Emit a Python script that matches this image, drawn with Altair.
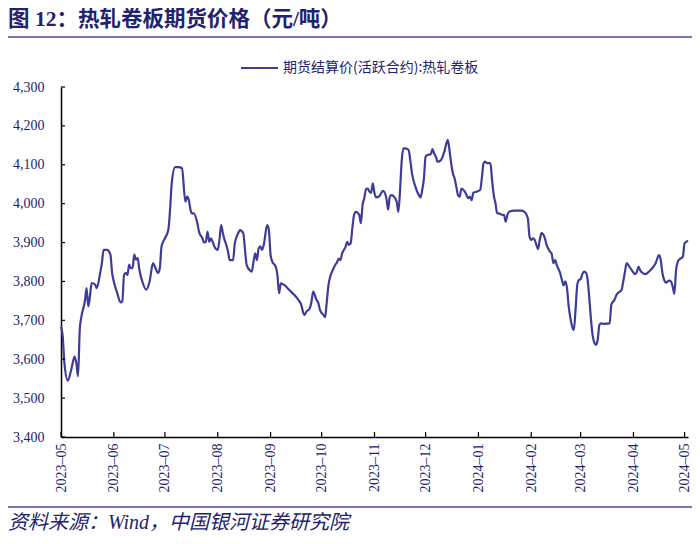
import altair as alt
import pandas as pd

# ---------------- data ----------------
TITLE = "图 12：热轧卷板期货价格（元/吨）"
SERIES_NAME = "期货结算价(活跃合约):热轧卷板"
SOURCE = "资料来源：Wind，中国银河证券研究院"

START_DATE = "2023-05-01"
# days elapsed since START_DATE
DAY_OFFSETS = [
    0, 1, 2, 4, 6, 8, 9, 10, 11, 12,
    14, 15, 16, 17, 18, 20, 21, 23, 24, 25,
    27, 29, 30, 31, 33, 35, 36, 37, 38, 39,
    40, 41, 42, 43, 44, 45, 46, 48, 50, 52,
    54, 55, 57, 58, 59, 61, 63, 64, 65, 67,
    69, 71, 73, 74, 75, 76, 77, 78, 80, 81,
    83, 84, 85, 86, 87, 88, 89, 90, 92, 93,
    94, 95, 96, 97, 98, 99, 101, 102, 104, 105,
    107, 108, 109, 111, 112, 113, 114, 115, 116, 117,
    118, 119, 121, 122, 123, 124, 126, 127, 128, 129,
    131, 134, 137, 140, 141, 142, 143, 144, 146, 147,
    148, 150, 151, 152, 154, 155, 156, 157, 158, 160,
    161, 162, 163, 164, 165, 167, 168, 169, 170, 171,
    172, 173, 175, 176, 177, 178, 179, 180, 181, 182,
    183, 184, 185, 187, 188, 189, 191, 192, 193, 194,
    195, 197, 198, 199, 200, 201, 202, 204, 205, 206,
    208, 210, 211, 212, 213, 214, 215, 217, 218, 219,
    220, 221, 223, 224, 225, 227, 228, 229, 230, 231,
    232, 233, 234, 235, 237, 238, 239, 240, 241, 242,
    244, 246, 247, 248, 249, 250, 252, 253, 254, 255,
    256, 257, 259, 260, 261, 262, 263, 266, 270, 272,
    274, 275, 276, 277, 278, 279, 280, 281, 282, 284,
    285, 287, 288, 289, 290, 291, 293, 294, 295, 296,
    297, 298, 299, 300, 301, 302, 303, 304, 305, 306,
    307, 308, 309, 310, 311, 312, 313, 314, 315, 316,
    317, 319, 322, 323, 325, 326, 327, 329, 330, 331,
    332, 333, 335, 337, 338, 339, 340, 341, 343, 345,
    347, 349, 351, 352, 353, 354, 355, 357, 358, 359,
    360, 361, 362, 363, 365, 366, 367, 368,
]
PRICES = [
    3684, 3659, 3590, 3545, 3573, 3607, 3590, 3556, 3676, 3710,
    3749, 3783, 3736, 3762, 3796, 3792, 3783, 3822, 3847, 3881,
    3881, 3869, 3822, 3800, 3770, 3746, 3749, 3817, 3822, 3817,
    3843, 3834, 3834, 3869, 3856, 3860, 3830, 3796, 3779, 3800,
    3847, 3839, 3822, 3834, 3890, 3911, 3933, 3984, 4053, 4094,
    4094, 4091, 4005, 4018, 4010, 3984, 3975, 3975, 3950, 3928,
    3911, 3900, 3902, 3928, 3902, 3911, 3902, 3890, 3881, 3907,
    3945, 3924, 3907, 3894, 3877, 3855, 3855, 3898, 3924, 3932,
    3924, 3881, 3842, 3828, 3825, 3851, 3872, 3855, 3885, 3890,
    3881, 3894, 3945, 3932, 3868, 3851, 3838, 3817, 3770, 3795,
    3791, 3778, 3765, 3748, 3740, 3722, 3714, 3722, 3731, 3748,
    3774, 3752, 3745, 3727, 3714, 3708, 3748, 3791, 3812, 3834,
    3843, 3849, 3859, 3855, 3872, 3889, 3902, 3894, 3898, 3937,
    3971, 3979, 3972, 3950, 3997, 4014, 4037, 4039, 4031, 4028,
    4052, 4027, 4016, 4020, 4028, 4033, 4014, 3985, 4018, 4022,
    4020, 4005, 3979, 4035, 4112, 4142, 4142, 4138, 4112, 4078,
    4044, 4022, 4016, 4035, 4065, 4121, 4125, 4127, 4140, 4129,
    4121, 4108, 4112, 4121, 4134, 4164, 4138, 4104, 4078, 4065,
    4044, 4022, 4018, 4039, 4031, 4022, 4014, 4018, 4009, 4028,
    4031, 4035, 4065, 4104, 4108, 4104, 4104, 4061, 4022, 4001,
    3975, 3975, 3971, 3971, 3954, 3971, 3979, 3982, 3982, 3979,
    3962, 3915, 3907, 3911, 3907, 3894, 3883, 3907, 3924, 3911,
    3894, 3877, 3871, 3847, 3855, 3842, 3821, 3804, 3790, 3800,
    3782, 3735, 3705, 3684, 3675, 3727, 3791, 3804, 3806, 3819,
    3825, 3823, 3808, 3761, 3705, 3662, 3643, 3637, 3650, 3688,
    3692, 3691, 3692, 3740, 3754, 3765, 3771, 3778, 3800, 3825,
    3847, 3842, 3829, 3819, 3825, 3838, 3828, 3823, 3819, 3825,
    3834, 3847, 3868, 3855, 3821, 3804, 3797, 3802, 3800, 3787,
    3768, 3829, 3851, 3857, 3864, 3898, 3902, 3905,
]
Y_TICKS = [3400, 3500, 3600, 3700, 3800, 3900, 4000, 4100, 4200, 4300]
MONTH_TICKS = [(2023, 5), (2023, 6), (2023, 7), (2023, 8), (2023, 9), (2023, 10),
               (2023, 11), (2023, 12), (2024, 1), (2024, 2), (2024, 3), (2024, 4),
               (2024, 5)]
X_END = (2024, 5, 3)

# ---------------- styling ----------------
NAVY = "#22226e"
LINE = "#3d3d99"
SERIF = "Liberation Serif, Noto Sans CJK SC"
W, H = 627, 350

dates = pd.Timestamp(START_DATE) + pd.to_timedelta(DAY_OFFSETS, unit="D")
df = pd.DataFrame({"date": dates.strftime("%Y-%m-%dT00:00:00"), "price": PRICES})
ticks_df = pd.DataFrame({"date": [f"{y}-{m:02d}-01T00:00:00" for y, m in MONTH_TICKS]})
yt_df = pd.DataFrame({"price": Y_TICKS})
one = pd.DataFrame({"k": [0]})

x_scale = alt.Scale(domain=[alt.DateTime(year=2023, month=5, date=1),
                            alt.DateTime(year=X_END[0], month=X_END[1], date=X_END[2])])
y_scale = alt.Scale(domain=[Y_TICKS[0], Y_TICKS[-1]], nice=False, zero=False)

x_axis = alt.Axis(
    values=[alt.DateTime(year=y, month=m, date=1) for y, m in MONTH_TICKS],
    labelExpr="timeFormat(datum.value, '%Y') + '–' + timeFormat(datum.value, '%m')",
    labelAngle=-90, labelFont=SERIF, labelFontSize=14, labelColor=NAVY,
    labelPadding=6, labelFlush=False, labelOverlap=False, ticks=False, tickSize=0,
    domainColor="#000000", domainWidth=1.5, grid=False, title=None)
y_axis = alt.Axis(
    values=Y_TICKS, labelExpr="format(datum.value, ',')",
    labelFont=SERIF, labelFontSize=14, labelColor=NAVY,
    labelPadding=17, ticks=False, tickSize=0, domainColor="#000000", domainWidth=1.5,
    grid=False, title=None)

line = alt.Chart(df).mark_line(color=LINE, strokeWidth=2.2, interpolate="monotone").encode(
    x=alt.X("date:T", scale=x_scale, axis=x_axis),
    y=alt.Y("price:Q", scale=y_scale, axis=y_axis),
)

ytick = alt.Chart(yt_df).mark_rule(color="#000000", strokeWidth=1.2).encode(
    y=alt.Y("price:Q", scale=y_scale, axis=y_axis),
    x=alt.value(0), x2=alt.value(4),
)
xtick = alt.Chart(ticks_df).mark_rule(color="#000000", strokeWidth=1.2).encode(
    x=alt.X("date:T", scale=x_scale, axis=x_axis),
    y=alt.value(H), y2=alt.value(H - 5),
)

title = alt.Chart(one).mark_text(
    text=TITLE, font=SERIF, fontSize=21.5, fontWeight="bold", color=NAVY,
    align="left", baseline="middle").encode(x=alt.value(-53), y=alt.value(-67))
title_rule = alt.Chart(one).mark_rule(color="#4a4a9a", strokeWidth=1.5).encode(
    x=alt.value(-53), x2=alt.value(W + 4), y=alt.value(-50))

legend_line = alt.Chart(one).mark_rule(color=LINE, strokeWidth=2).encode(
    x=alt.value(180), x2=alt.value(217), y=alt.value(-19))
legend_text = alt.Chart(one).mark_text(
    text=SERIES_NAME, font="Noto Sans CJK SC", fontSize=14, color=NAVY,
    align="left", baseline="middle").encode(x=alt.value(222), y=alt.value(-19))

foot_rule = alt.Chart(one).mark_rule(color="#4a4a9a", strokeWidth=1.5).encode(
    x=alt.value(-53), x2=alt.value(W + 4), y=alt.value(H + 70))
source = alt.Chart(one).mark_text(
    text=SOURCE, font=SERIF, fontSize=20, fontStyle="italic", color=NAVY,
    align="left", baseline="middle").encode(x=alt.value(-53), y=alt.value(H + 86))

chart = alt.layer(
    line, ytick, xtick, title, title_rule, legend_line, legend_text, foot_rule, source
).properties(
    width=W, height=H,
    autosize=alt.AutoSizeParams(type="none"),
    padding={"left": 53, "top": 79, "right": 4, "bottom": 99},
    background="white",
).configure_view(stroke=None)

chart.save("out.html", embed_options={"renderer": "svg", "actions": False})
